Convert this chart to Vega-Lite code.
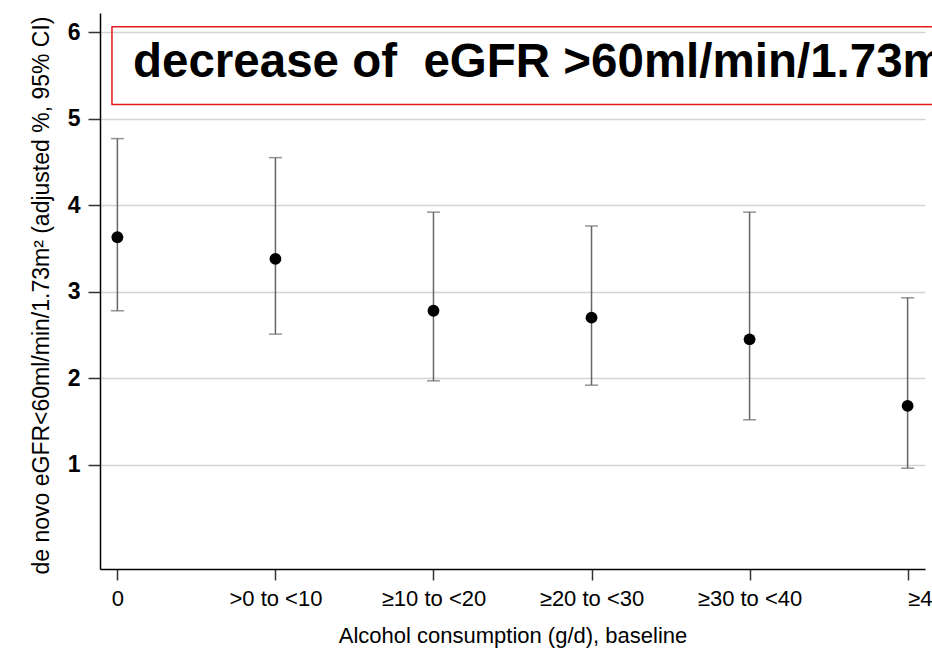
{
  "$schema": "https://vega.github.io/schema/vega-lite/v6.json",
  "width": 825,
  "height": 556,
  "autosize": {"type": "none"},
  "padding": {"left": 100, "top": 13, "right": 7, "bottom": 81},
  "background": "white",
  "config": {"font": "Liberation Sans", "view": {"stroke": null}},
  "datasets": {
    "est": [
      {"cat": "0", "pct": 3.63, "lo": 2.78, "hi": 4.77},
      {"cat": ">0 to <10", "pct": 3.38, "lo": 2.51, "hi": 4.55},
      {"cat": "≥10 to <20", "pct": 2.78, "lo": 1.97, "hi": 3.92},
      {"cat": "≥20 to <30", "pct": 2.70, "lo": 1.92, "hi": 3.76},
      {"cat": "≥30 to <40", "pct": 2.45, "lo": 1.52, "hi": 3.92},
      {"cat": "≥40", "pct": 1.68, "lo": 0.96, "hi": 2.93}
    ],
    "box": [{"bx": 0.0145, "bx2": 1.08, "by": 5.164, "by2": 6.062}],
    "note": [{"bx": 0.04, "by": 5.486, "text": "decrease of\u00a0 eGFR >60ml/min/1.73m²"}]
  },
  "layer": [
    {
      "data": {"name": "est"},
      "encoding": {
        "x": {
          "field": "cat", "type": "nominal", "sort": null,
          "scale": {"type": "point", "padding": 0.11},
          "axis": {
            "title": "Alcohol consumption (g/d), baseline",
            "titleFontSize": 22, "titleFontWeight": "normal", "titleColor": "#000", "titlePadding": 16,
            "labelFontSize": 22, "labelColor": "#000", "labelAngle": 0, "labelPadding": 8,
            "labelOverlap": false, "labelFlush": false,
            "labelAlign": {"condition": {"test": "datum.label == '≥40'", "value": "left"}, "value": "center"},
            "domainColor": "#000", "domainWidth": 1.5,
            "tickColor": "#333", "tickSize": 11, "tickWidth": 1.5,
            "grid": false
          }
        }
      },
      "layer": [
        {
          "mark": {"type": "rule", "color": "#666666", "strokeWidth": 1.5},
          "encoding": {
            "y": {
              "field": "lo", "type": "quantitative",
              "scale": {"domain": [-0.205, 6.222], "nice": false, "zero": false},
              "axis": {
                "values": [1, 2, 3, 4, 5, 6],
                "format": "d",
                "title": "de novo eGFR<60ml/min/1.73m² (adjusted %, 95% CI)",
                "titleFontSize": 23, "titleFontWeight": "normal", "titleColor": "#000",
                "titleAngle": -90, "titleBaseline": "alphabetic", "titleX": -52, "titleY": 282,
                "labelFontSize": 23, "labelFontWeight": "bold", "labelColor": "#000", "labelPadding": 8,
                "domainColor": "#000", "domainWidth": 1.5,
                "tickColor": "#333", "tickSize": 12, "tickWidth": 1.5,
                "grid": true, "gridColor": "#d4d4d4", "gridWidth": 1.5
              }
            },
            "y2": {"field": "hi"}
          }
        },
        {
          "mark": {"type": "tick", "color": "#666666", "size": 13, "thickness": 1.5, "orient": "horizontal"},
          "encoding": {"y": {"field": "lo", "type": "quantitative"}}
        },
        {
          "mark": {"type": "tick", "color": "#666666", "size": 13, "thickness": 1.5, "orient": "horizontal"},
          "encoding": {"y": {"field": "hi", "type": "quantitative"}}
        },
        {
          "mark": {"type": "point", "filled": true, "color": "#000", "opacity": 1, "size": 140},
          "encoding": {"y": {"field": "pct", "type": "quantitative"}}
        }
      ]
    },
    {
      "data": {"name": "box"},
      "mark": {"type": "rect", "fill": null, "stroke": "#e31a1c", "strokeWidth": 1.5},
      "encoding": {
        "x": {"field": "bx", "type": "quantitative", "scale": {"domain": [0, 1], "nice": false, "zero": false}, "axis": null},
        "x2": {"field": "bx2"},
        "y": {"field": "by", "type": "quantitative"},
        "y2": {"field": "by2"}
      }
    },
    {
      "data": {"name": "note"},
      "mark": {"type": "text", "align": "left", "baseline": "alphabetic", "fontSize": 47.5, "fontWeight": "bold", "color": "#000"},
      "encoding": {
        "x": {"field": "bx", "type": "quantitative", "scale": {"domain": [0, 1], "nice": false, "zero": false}, "axis": null},
        "y": {"field": "by", "type": "quantitative"},
        "text": {"field": "text"}
      }
    }
  ],
  "resolve": {"scale": {"x": "independent"}}
}
